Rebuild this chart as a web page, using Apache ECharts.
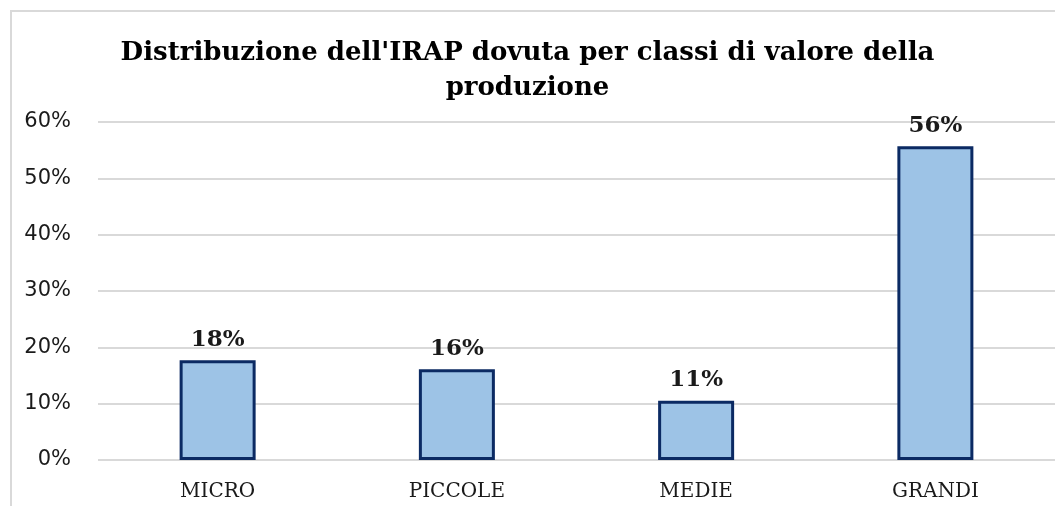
<!DOCTYPE html>
<html>
<head>
<meta charset="utf-8">
<script src="https://cdn.jsdelivr.net/npm/echarts@6/dist/echarts.min.js"></script>
<style>
  html, body { margin: 0; padding: 0; background: #fff; }
  #chart { width: 1055px; height: 506px; }
</style>
</head>
<body>
<div id="chart"></div>
<script>
const categories = ['MICRO', 'PICCOLE', 'MEDIE', 'GRANDI']
const quote = [17.7, 16.1, 10.5, 55.7]
const etichette = ['18%', '16%', '11%', '56%']
const titolo = "Distribuzione dell'IRAP dovuta per classi di valore della\nproduzione"

const chart = echarts.init(document.getElementById('chart'))

chart.setOption({
  animation: false,
  backgroundColor: '#fff',
  title: {
    text: titolo,
    left: 'center',
    top: 31,
    textStyle: {
      fontFamily: 'DejaVu Serif',
      fontWeight: 'bold',
      fontSize: 26,
      lineHeight: 35,
      color: '#000'
    }
  },
  graphic: [{
    type: 'rect',
    shape: { x: 11, y: 11, width: 1060, height: 510 },
    style: { fill: null, stroke: '#d9d9d9', lineWidth: 2 },
    silent: true
  }],
  grid: { left: 98, right: -3, top: 122, bottom: 46 },
  xAxis: {
    type: 'category',
    data: categories,
    axisLine: { show: false },
    axisTick: { show: false },
    axisLabel: {
      margin: 22,
      fontFamily: 'DejaVu Serif',
      fontSize: 20,
      color: '#1a1a1a'
    }
  },
  yAxis: {
    type: 'value',
    min: 0,
    max: 60,
    interval: 10,
    axisLabel: {
      margin: 27,
      formatter: '{value}%',
      fontFamily: 'DejaVu Sans',
      fontSize: 21,
      color: '#1a1a1a'
    },
    splitLine: { lineStyle: { color: '#d9d9d9', width: 2 } }
  },
  series: [{
    type: 'bar',
    data: quote,
    barWidth: 76,
    itemStyle: {
      color: '#9dc3e6',
      borderColor: '#0b2a63',
      borderWidth: 3
    },
    label: {
      show: true,
      position: 'top',
      distance: 9,
      formatter: p => etichette[p.dataIndex],
      fontFamily: 'DejaVu Serif',
      fontWeight: 'bold',
      fontSize: 23,
      color: '#1a1a1a'
    }
  }]
})
</script>
</body>
</html>
